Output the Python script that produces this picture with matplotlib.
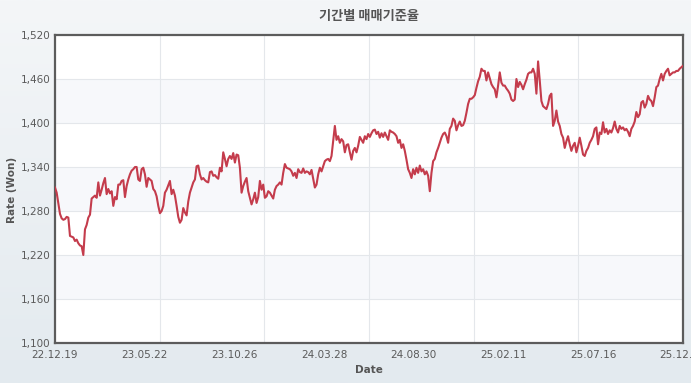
import numpy as np
import matplotlib
matplotlib.use("Agg")
import matplotlib.pyplot as plt
from matplotlib.colors import LinearSegmentedColormap

plt.rcParams['font.family'] = ['DejaVu Sans', 'Noto Sans CJK KR']

title = "기간별 매매기준율"
x_label = "Date"
y_label = "Rate (Won)"
tick_labels = ["22.12.19", "23.05.22", "23.10.26", "24.03.28",
               "24.08.30", "25.02.11", "25.07.16", "25.12.19"]
y_ticks = [1100, 1160, 1220, 1280, 1340, 1400, 1460, 1520]

rates_a = [1312, 1305, 1290, 1276, 1270, 1268, 1269, 1272, 1271, 1246, 1245, 1244, 1239, 1241,
           1236, 1233, 1232, 1220, 1255, 1261, 1271, 1275, 1297, 1299, 1301, 1298, 1319, 1301,
           1309, 1318, 1325, 1303, 1310, 1304, 1307, 1287, 1299, 1296, 1316, 1316, 1321, 1322,
           1299, 1314, 1323, 1330, 1335, 1337, 1340, 1340, 1323, 1321, 1337, 1339, 1330, 1313,
           1325, 1323, 1321, 1310, 1307, 1300, 1287, 1277, 1280, 1287, 1305, 1309, 1315, 1321,
           1303, 1309, 1301, 1287, 1272, 1264, 1268, 1284, 1278, 1274, 1293, 1305, 1312, 1319,
           1323, 1341, 1342, 1330, 1323, 1325, 1322, 1320, 1319, 1333, 1334, 1328, 1329, 1326,
           1324, 1339, 1334, 1360, 1351, 1341, 1351, 1355, 1351, 1359, 1346, 1357, 1356, 1339,
           1305, 1314, 1320, 1325, 1307, 1298, 1289, 1296, 1305, 1291, 1299, 1321, 1309, 1316,
           1298]
rates_b = [1300, 1307, 1305, 1301, 1297, 1309, 1314, 1316, 1319, 1316, 1332, 1344, 1339, 1338,
           1337, 1334, 1328, 1332, 1325, 1337, 1333, 1332, 1338, 1332, 1334, 1333, 1330, 1336,
           1324, 1312, 1316, 1330, 1339, 1334, 1341, 1348, 1350, 1351, 1348, 1355, 1375, 1396,
           1377, 1382, 1373, 1378, 1375, 1360, 1370, 1371, 1360, 1350, 1362, 1366, 1360, 1369,
           1381, 1377, 1373, 1382, 1378, 1385, 1381, 1386, 1390, 1391, 1385, 1388, 1380, 1386,
           1381, 1387, 1382, 1377, 1390, 1388, 1387, 1385, 1382, 1373, 1377, 1366, 1371, 1362,
           1350, 1337, 1332, 1325, 1337, 1330, 1339, 1332, 1342, 1334, 1337, 1330, 1334, 1328,
           1307, 1332, 1348, 1351, 1360, 1366, 1373, 1380, 1385, 1387, 1382, 1373, 1392, 1396,
           1406, 1403, 1390, 1397, 1402, 1396, 1397, 1403, 1414, 1426, 1433, 1433, 1435]
rates_c = [1438, 1448, 1457, 1463, 1474, 1471, 1471, 1458, 1469, 1461, 1453, 1449, 1446, 1435,
           1451, 1469, 1455, 1451, 1451, 1447, 1444, 1440, 1432, 1430, 1432, 1460, 1449, 1456,
           1452, 1446, 1453, 1459, 1467, 1469, 1469, 1474, 1467, 1440, 1484, 1458, 1430, 1423,
           1421, 1419, 1426, 1437, 1440, 1396, 1403, 1417, 1402, 1396, 1385, 1380, 1366, 1375,
           1382, 1371, 1362, 1369, 1373, 1360, 1369, 1380, 1369, 1357, 1355, 1362, 1366, 1373,
           1377, 1382, 1392, 1394, 1371, 1387, 1385, 1401, 1387, 1392, 1385, 1390, 1387, 1393,
           1402, 1392, 1387, 1396, 1392, 1394, 1390, 1392, 1388, 1382, 1392, 1396, 1402, 1415,
           1408, 1412, 1428, 1430, 1421, 1426, 1437, 1432, 1430, 1423, 1435, 1449, 1451, 1460,
           1467, 1458, 1467, 1471, 1474, 1465, 1467, 1469, 1469, 1471, 1471, 1474, 1476, 1478]

rates = np.array(rates_a + rates_b + rates_c, dtype=float)
n = len(rates)
idx = np.arange(n)

W, H = 691, 383
fig = plt.figure(figsize=(W / 100, H / 100), dpi=100)

# background gradient
bg = fig.add_axes([0, 0, 1, 1], zorder=-10)
cmap = LinearSegmentedColormap.from_list("bg", ["#f4f6f8", "#e3eaef"])
bg.imshow(np.linspace(0, 1, 256).reshape(-1, 1), aspect="auto", cmap=cmap,
          extent=[0, 1, 0, 1], origin="upper")
bg.set_axis_off()

ax = fig.add_axes([55 / W, 1 - 343 / H, (683 - 55) / W, (343 - 35) / H])
ax.set_facecolor("white")
ax.set_xlim(0, n - 1)
ax.set_ylim(y_ticks[0], y_ticks[-1])

# alternating bands
for i in range(len(y_ticks) - 1):
    if i % 2 == 1:
        ax.axhspan(y_ticks[i], y_ticks[i + 1], color="#f7f8fb", zorder=0, lw=0)
for yv in y_ticks[1:-1]:
    ax.axhline(yv, color="#e4e7eb", lw=0.8, zorder=1)
for k in range(1, 6):
    ax.axvline(k * (n - 1) / 6, color="#e4e7eb", lw=0.8, zorder=1)

ax.plot(idx, rates, color="#c43c4c", lw=1.5, zorder=3, solid_joinstyle="round")

ax.set_yticks(y_ticks)
ax.set_yticklabels([f"{v:,}" for v in y_ticks])
ax.set_xticks([k * (n - 1) / 7 for k in range(8)])
ax.set_xticklabels(tick_labels)
ax.tick_params(axis="both", length=0, labelsize=7.5, colors="#5a5a5a")
ax.tick_params(axis="y", pad=3)
ax.tick_params(axis="x", pad=5)
for lab in ax.get_xticklabels():
    lab.set_clip_on(False)

for s in ax.spines.values():
    s.set_color("#5c5c5c")
    s.set_linewidth(1.6)

fig.text(369 / W, 1 - 16 / H, title, ha="center", va="center", fontsize=9.5,
         fontweight="bold", color="#555555",
         family=["Noto Sans CJK KR", "DejaVu Sans"])
fig.text(369 / W, 1 - 370 / H, x_label, ha="center", va="center", fontsize=7.5,
         fontweight="bold", color="#555555")
fig.text(12 / W, 1 - 190 / H, y_label, ha="center", va="center", fontsize=7.5,
         fontweight="bold", color="#555555", rotation=90)

fig.savefig("out.png", dpi=100)
